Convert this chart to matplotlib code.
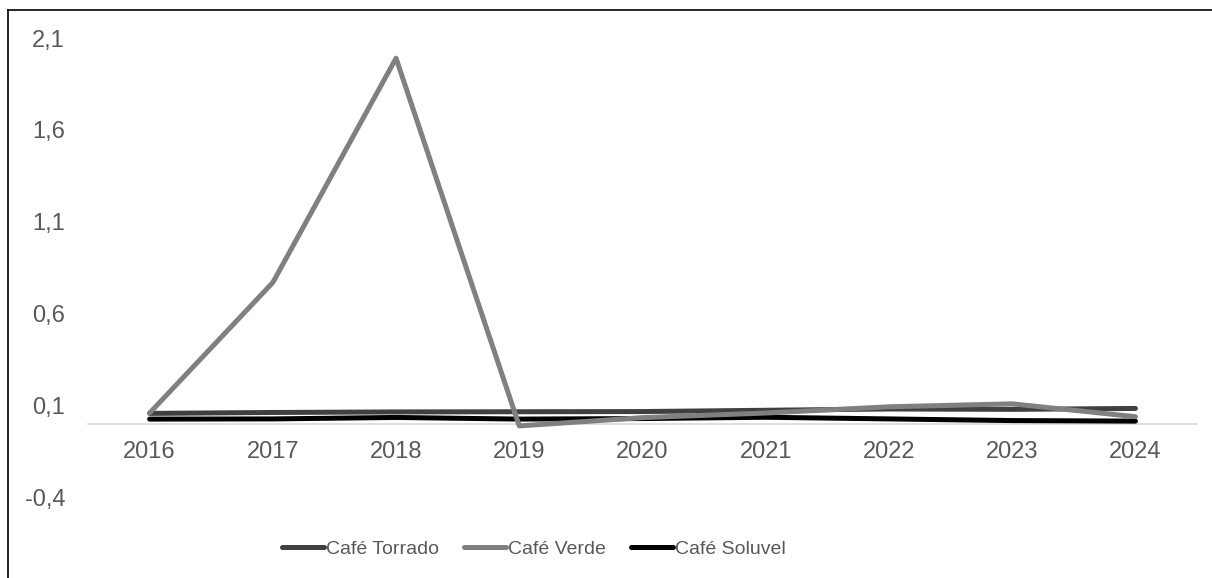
import matplotlib.pyplot as plt
from matplotlib.lines import Line2D
from matplotlib.ticker import FuncFormatter

anos = ["2016", "2017", "2018", "2019", "2020", "2021", "2022", "2023", "2024"]
cafe_torrado = [0.058, 0.063, 0.066, 0.067, 0.068, 0.075, 0.082, 0.080, 0.085]
cafe_verde = [0.060, 0.770, 1.990, -0.010, 0.035, 0.060, 0.094, 0.110, 0.040]
cafe_soluvel = [0.027, 0.028, 0.036, 0.027, 0.030, 0.037, 0.028, 0.019, 0.016]
y_ticks = [-0.4, 0.1, 0.6, 1.1, 1.6, 2.1]

plt.rcParams['font.family'] = ['Liberation Sans', 'DejaVu Sans']
texto = '#595959'

fig = plt.figure(figsize=(12.12, 5.78), dpi=100)
ax = fig.add_axes([88 / 1212, 1 - 497.6 / 578, (1197 - 88) / 1212, (497.6 - 38) / 578])

x = range(len(anos))
ax.plot(x, cafe_torrado, color='#404040', lw=3.6, solid_capstyle='round', label='Café Torrado', zorder=3)
ax.plot(x, cafe_soluvel, color='#000000', lw=3.6, solid_capstyle='round', label='Café Soluvel', zorder=4)
ax.plot(x, cafe_verde, color='#808080', lw=3.6, solid_capstyle='round', label='Café Verde', zorder=5)

ax.set_xlim(-0.5, len(anos) - 0.5)
ax.set_ylim(-0.4, 2.1)
ax.set_yticks(y_ticks)
ax.yaxis.set_major_formatter(FuncFormatter(lambda v, p: f"{v:.1f}".replace('.', ',')))
ax.set_xticks(list(x))
ax.set_xticklabels(anos)

for s in ['top', 'right', 'left']:
    ax.spines[s].set_visible(False)
ax.spines['bottom'].set_position(('data', 0))
ax.spines['bottom'].set_color('#d9d9d9')
ax.spines['bottom'].set_linewidth(1.2)
ax.spines['bottom'].set_zorder(1)

ax.tick_params(axis='x', length=0, pad=12, labelsize=17, labelcolor=texto)
ax.tick_params(axis='y', length=0, pad=16.5, labelsize=17, labelcolor=texto)

handles, labels = ax.get_legend_handles_labels()
order = [0, 2, 1]
fig.legend([handles[i] for i in order], [labels[i] for i in order],
           loc='center', bbox_to_anchor=(534 / 1212, 1 - 549 / 578), ncol=3,
           frameon=False, fontsize=14, labelcolor=texto,
           handlelength=2.16, handletextpad=0.1, columnspacing=1.29)

# moldura do gráfico
fig.add_artist(Line2D([8 / 1212, 8 / 1212], [0, 1 - 10 / 578], color='black', lw=1.2))
fig.add_artist(Line2D([8 / 1212, 1], [1 - 10 / 578, 1 - 10 / 578], color='black', lw=1.2))

fig.savefig('out.png', dpi=100)
